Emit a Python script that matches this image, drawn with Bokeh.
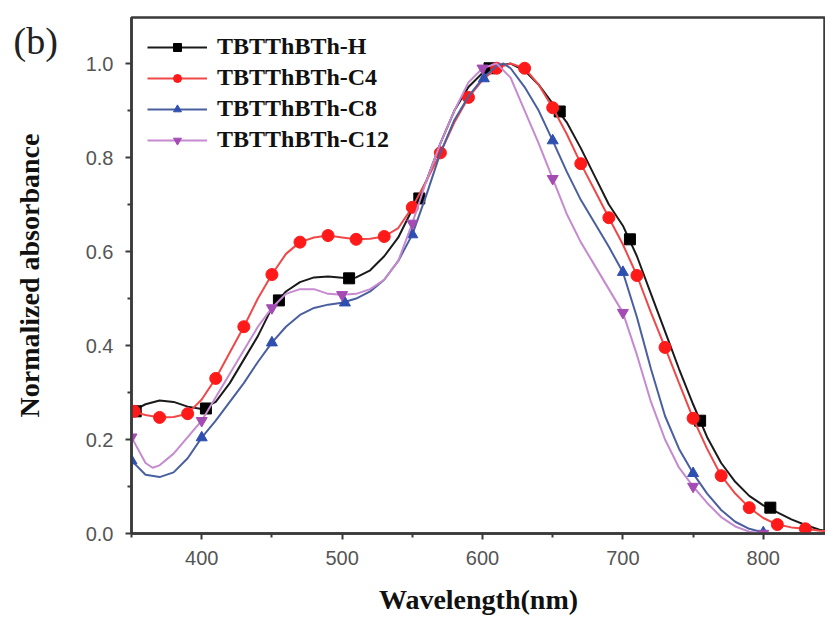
from bokeh.plotting import figure
from bokeh.models import Range1d, FixedTicker, Legend, CustomJSTickFormatter, Title
from bokeh.embed import file_html
from bokeh.resources import INLINE

# ---- data ----
h_x = [350, 360, 370, 380, 390, 400, 410, 420, 430, 440, 450, 460, 470, 480, 490, 500, 510, 520, 530, 540,
       550, 560, 570, 580, 590, 600, 610, 620, 630, 640, 650, 660, 670, 680, 690, 700, 710, 720, 730, 740,
       750, 760, 770, 780, 790, 800, 810, 820, 830, 840, 850]
h_y = [0.26, 0.275, 0.283, 0.28, 0.27, 0.265, 0.28, 0.32, 0.37, 0.42, 0.48, 0.515, 0.535, 0.545, 0.547, 0.544,
       0.545, 0.56, 0.59, 0.63, 0.69, 0.75, 0.83, 0.90, 0.95, 0.98, 0.995, 1.0, 0.985, 0.955, 0.915, 0.875,
       0.82, 0.76, 0.70, 0.655, 0.59, 0.51, 0.43, 0.35, 0.275, 0.205, 0.15, 0.11, 0.08, 0.06, 0.045, 0.03,
       0.018, 0.008, 0.003]
h_mx = [353, 403, 455, 505, 555, 605, 655, 705, 755, 805]
h_my = [0.26, 0.266, 0.496, 0.543, 0.713, 0.99, 0.898, 0.626, 0.24, 0.055]

c4_x = h_x
c4_y = [0.26, 0.252, 0.247, 0.248, 0.255, 0.285, 0.33, 0.385, 0.44, 0.50, 0.551, 0.595, 0.62, 0.63, 0.634,
        0.63, 0.626, 0.627, 0.632, 0.65, 0.694, 0.75, 0.81, 0.875, 0.928, 0.965, 0.99, 1.0, 0.99, 0.955,
        0.906, 0.85, 0.787, 0.73, 0.672, 0.615, 0.549, 0.47, 0.396, 0.32, 0.245, 0.18, 0.123, 0.085,
        0.055, 0.033, 0.019, 0.013, 0.01, 0.006, 0.004]
c4_mx = [352, 370, 390, 410, 430, 450, 470, 490, 510, 530, 550, 570, 590, 610, 630, 650, 670, 690, 710,
         730, 750, 770, 790, 810, 830]
c4_my = [0.26, 0.247, 0.255, 0.33, 0.44, 0.551, 0.62, 0.634, 0.626, 0.632, 0.694, 0.81, 0.928, 0.99, 0.99,
         0.906, 0.787, 0.672, 0.549, 0.396, 0.245, 0.123, 0.055, 0.019, 0.01]

c8_x = [350, 360, 370, 380, 390, 400, 410, 420, 430, 440, 450, 460, 470, 480, 490, 500, 510, 520, 530, 540,
        550, 560, 570, 580, 590, 600, 610, 615, 620, 630, 640, 650, 660, 670, 680, 690, 700, 710, 720, 730,
        740, 750, 760, 770, 780, 790, 800]
c8_y = [0.155, 0.125, 0.12, 0.13, 0.16, 0.204, 0.24, 0.28, 0.32, 0.365, 0.406, 0.44, 0.465, 0.48, 0.487,
        0.491, 0.50, 0.515, 0.54, 0.58, 0.636, 0.72, 0.81, 0.88, 0.93, 0.968, 0.995, 1.0, 0.99, 0.95, 0.90,
        0.836, 0.77, 0.71, 0.66, 0.61, 0.556, 0.46, 0.35, 0.25, 0.18, 0.128, 0.085, 0.05, 0.025, 0.01, 0.002]
c8_mx = [350, 400, 450, 502, 550, 601, 650, 700, 750, 800]
c8_my = [0.155, 0.204, 0.406, 0.491, 0.636, 0.968, 0.836, 0.556, 0.128, 0.002]

c12_x = [350, 360, 365, 370, 380, 390, 400, 410, 420, 430, 440, 450, 460, 470, 480, 490, 500, 510, 520, 530,
         540, 550, 560, 570, 580, 590, 600, 610, 620, 630, 640, 650, 660, 670, 680, 690, 700, 710, 720, 730,
         740, 750, 760, 770, 780, 790, 800]
c12_y = [0.205, 0.15, 0.14, 0.145, 0.17, 0.205, 0.24, 0.29, 0.34, 0.39, 0.44, 0.48, 0.51, 0.52, 0.52, 0.51,
         0.508, 0.51, 0.52, 0.54, 0.58, 0.66, 0.75, 0.83, 0.90, 0.96, 0.99, 1.0, 0.97, 0.90, 0.83, 0.755,
         0.68, 0.62, 0.57, 0.52, 0.47, 0.38, 0.28, 0.20, 0.14, 0.10, 0.065, 0.035, 0.015, 0.004, 0.0]
c12_mx = [350, 400, 450, 500, 550, 600, 650, 700, 750, 800]
c12_my = [0.205, 0.24, 0.48, 0.508, 0.66, 0.99, 0.755, 0.47, 0.10, 0.0]

labels = ["TBTThBTh-H", "TBTThBTh-C4", "TBTThBTh-C8", "TBTThBTh-C12"]
panel_tag = "(b)"
x_ticks = [400, 500, 600, 700, 800]
y_ticks = [0.0, 0.2, 0.4, 0.6, 0.8, 1.0]

# ---- figure ----
p = figure(width=825, height=619, output_backend="svg", toolbar_location=None,
           x_range=Range1d(350, 844.3), y_range=Range1d(0, 1.098),
           min_border_left=131, min_border_right=0, min_border_top=17, min_border_bottom=86)
p.xgrid.visible = False
p.ygrid.visible = False
axis_color = "#3a3a3a"
p.outline_line_color = axis_color
p.outline_line_width = 2.5
p.outline_line_alpha = 1.0
p.background_fill_color = "white"

for ax in (p.xaxis[0], p.yaxis[0]):
    ax.axis_line_color = axis_color
    ax.axis_line_width = 2.5
    ax.major_tick_line_color = axis_color
    ax.major_tick_line_width = 2
    ax.minor_tick_line_color = axis_color
    ax.minor_tick_line_width = 2
    ax.major_tick_in = 0
    ax.major_tick_out = 6
    ax.minor_tick_in = 0
    ax.minor_tick_out = 4
    ax.major_label_text_font = "Liberation Sans"
    ax.major_label_text_font_size = "20px"
    ax.major_label_text_color = "#555555"
    ax.axis_label_text_font = "Liberation Serif"
    ax.axis_label_text_font_style = "bold"
    ax.axis_label_text_font_size = "28px"
    ax.axis_label_text_color = "#111111"

p.xaxis[0].ticker = FixedTicker(ticks=x_ticks, minor_ticks=[350, 450, 550, 650, 750, 850])
p.yaxis[0].ticker = FixedTicker(ticks=y_ticks, minor_ticks=[0.1, 0.3, 0.5, 0.7, 0.9])
p.yaxis[0].formatter = CustomJSTickFormatter(code="return tick.toFixed(1);")
p.xaxis[0].axis_label = "Wavelength(nm)"
p.yaxis[0].axis_label = "Normalized absorbance"
p.xaxis[0].major_label_standoff = 11
p.yaxis[0].major_label_standoff = 12
p.xaxis[0].axis_label_standoff = 16
p.yaxis[0].axis_label_standoff = 38

# ---- series ----
series = [
    (h_x, h_y, h_mx, h_my, "#1a1a1a", "#000000", "square", 11),
    (c4_x, c4_y, c4_mx, c4_my, "#f04848", "#ff1a1a", "circle", 12),
    (c8_x, c8_y, c8_mx, c8_my, "#4a5f9f", "#2f4fb0", "triangle", 11),
    (c12_x, c12_y, c12_mx, c12_my, "#c58ad0", "#a44cb4", "inverted_triangle", 11),
]
items = []
for (x, y, mx, my, lc, mc, mk, ms), lab in zip(series, labels):
    r1 = p.line(x, y, line_color=lc, line_width=2)
    r2 = p.scatter(mx, my, marker=mk, size=ms, fill_color=mc, line_color=mc)
    items.append((lab, [r1, r2]))

legend = Legend(items=items, location=(16, 380), orientation="vertical",
                glyph_width=60, glyph_height=20, label_standoff=10, spacing=4,
                padding=0, margin=0, border_line_color=None, background_fill_alpha=0,
                label_text_font="Liberation Serif", label_text_font_style="bold",
                label_text_font_size="24px", label_text_color="#111111")
p.add_layout(legend, "center")

# panel tag "(b)": a title whose first line is empty, pulled down beside the frame
tag = Title(text="\n" + panel_tag, align="left", offset=-118, standoff=-89, vertical_align="bottom",
            text_font="Liberation Serif", text_font_size="38px", text_font_style="normal",
            text_color="#222222")
p.add_layout(tag, "above")

open("out.html", "w").write(file_html(p, INLINE))
